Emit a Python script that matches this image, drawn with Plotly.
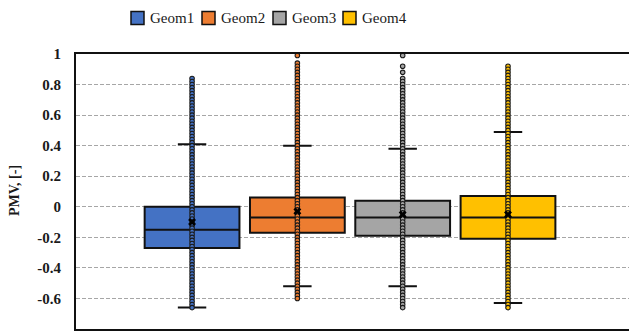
import plotly.graph_objects as go

# ---- data -------------------------------------------------------------
geoms = ["Geom1", "Geom2", "Geom3", "Geom4"]
colors = ["#4472C4", "#ED7D31", "#A5A5A5", "#FFC000"]

q1 = [-0.27, -0.17, -0.19, -0.21]
median = [-0.15, -0.07, -0.07, -0.07]
q3 = [0.00, 0.06, 0.04, 0.07]
lower_whisker = [-0.66, -0.52, -0.52, -0.63]
upper_whisker = [0.41, 0.40, 0.38, 0.49]
mean = [-0.10, -0.03, -0.05, -0.05]

# observed PMV values for each geometry
points_geom1 = [0.84, 0.82, 0.80, 0.78, 0.76, 0.74, 0.72, 0.70, 0.68, 0.66, 0.64, 0.62,
                0.60, 0.58, 0.56, 0.54, 0.52, 0.50, 0.48, 0.46, 0.44, 0.42, 0.40, 0.38,
                0.36, 0.34, 0.32, 0.30, 0.28, 0.26, 0.24, 0.22, 0.20, 0.18, 0.16, 0.14,
                0.12, 0.10, 0.08, 0.06, 0.04, 0.02, 0.00, -0.02, -0.04, -0.06, -0.08,
                -0.10, -0.12, -0.14, -0.16, -0.18, -0.20, -0.22, -0.24, -0.26, -0.28,
                -0.30, -0.32, -0.34, -0.36, -0.38, -0.40, -0.42, -0.44, -0.46, -0.48,
                -0.50, -0.52, -0.54, -0.56, -0.58, -0.60, -0.62, -0.64, -0.66]
points_geom2 = [0.99, 0.94, 0.92, 0.90, 0.88, 0.86, 0.84, 0.82, 0.80, 0.78, 0.76, 0.74,
                0.72, 0.70, 0.68, 0.66, 0.64, 0.62, 0.60, 0.58, 0.56, 0.54, 0.52, 0.50,
                0.48, 0.46, 0.44, 0.42, 0.40, 0.38, 0.36, 0.34, 0.32, 0.30, 0.28, 0.26,
                0.24, 0.22, 0.20, 0.18, 0.16, 0.14, 0.12, 0.10, 0.08, 0.06, 0.04, 0.02,
                0.00, -0.02, -0.04, -0.06, -0.08, -0.10, -0.12, -0.14, -0.16, -0.18,
                -0.20, -0.22, -0.24, -0.26, -0.28, -0.30, -0.32, -0.34, -0.36, -0.38,
                -0.40, -0.42, -0.44, -0.46, -0.48, -0.50, -0.52, -0.54, -0.56, -0.58,
                -0.60]
points_geom3 = [0.99, 0.92, 0.88, 0.84, 0.82, 0.80, 0.78, 0.76, 0.74, 0.72, 0.70, 0.68,
                0.66, 0.64, 0.62, 0.60, 0.58, 0.56, 0.54, 0.52, 0.50, 0.48, 0.46, 0.44,
                0.42, 0.40, 0.38, 0.36, 0.34, 0.32, 0.30, 0.28, 0.26, 0.24, 0.22, 0.20,
                0.18, 0.16, 0.14, 0.12, 0.10, 0.08, 0.06, 0.04, 0.02, 0.00, -0.02, -0.04,
                -0.06, -0.08, -0.10, -0.12, -0.14, -0.16, -0.18, -0.20, -0.22, -0.24,
                -0.26, -0.28, -0.30, -0.32, -0.34, -0.36, -0.38, -0.40, -0.42, -0.44,
                -0.46, -0.48, -0.50, -0.52, -0.54, -0.56, -0.58, -0.60, -0.62, -0.64,
                -0.66]
points_geom4 = [0.92, 0.90, 0.88, 0.86, 0.84, 0.82, 0.80, 0.78, 0.76, 0.74, 0.72, 0.70,
                0.68, 0.66, 0.64, 0.62, 0.60, 0.58, 0.56, 0.54, 0.52, 0.50, 0.48, 0.46,
                0.44, 0.42, 0.40, 0.38, 0.36, 0.34, 0.32, 0.30, 0.28, 0.26, 0.24, 0.22,
                0.20, 0.18, 0.16, 0.14, 0.12, 0.10, 0.08, 0.06, 0.04, 0.02, 0.00, -0.02,
                -0.04, -0.06, -0.08, -0.10, -0.12, -0.14, -0.16, -0.18, -0.20, -0.22,
                -0.24, -0.26, -0.28, -0.30, -0.32, -0.34, -0.36, -0.38, -0.40, -0.42,
                -0.44, -0.46, -0.48, -0.50, -0.52, -0.54, -0.56, -0.58, -0.60, -0.62,
                -0.64, -0.66]
points = [points_geom1, points_geom2, points_geom3, points_geom4]

y_tick_vals = [-0.8, -0.6, -0.4, -0.2, 0, 0.2, 0.4, 0.6, 0.8, 1]
y_tick_text = ["-0.8", "-0.6", "-0.4", "-0.2", "0", "0.2", "0.4", "0.6", "0.8", "1"]

# ---- layout geometry (pixels) ----------------------------------------
W, H = 629, 333
ML, MR, MT, MB = 76, 0, 54, 4
PW, PH = W - ML - MR, H - MT - MB

SERIF = "Liberation Serif"


def px_x(p):
    return (p - ML) / PW


def px_y(p):
    return (H - MB - p) / PH


fig = go.Figure()

for i, name in enumerate(geoms):
    fig.add_trace(go.Box(
        x=[i], q1=[q1[i]], median=[median[i]], q3=[q3[i]],
        lowerfence=[lower_whisker[i]], upperfence=[upper_whisker[i]],
        name=name, width=0.9, whiskerwidth=0.3,
        fillcolor=colors[i], line=dict(color="#111111", width=2),
        boxpoints=False, showlegend=False, hoverinfo="skip",
    ))

for i, name in enumerate(geoms):
    fig.add_trace(go.Scatter(
        x=[i] * len(points[i]), y=points[i], mode="markers",
        marker=dict(size=4.5, color=colors[i], line=dict(color="#1a1a1a", width=1.1)),
        cliponaxis=False, showlegend=False, hoverinfo="skip",
    ))

fig.add_trace(go.Scatter(
    x=list(range(len(geoms))), y=mean, mode="markers",
    marker=dict(symbol="x", size=7, color="#000000", line=dict(width=0)),
    cliponaxis=False, showlegend=False, hoverinfo="skip",
))

# legend drawn as swatches + labels across the top
legend_left = [131, 202, 273, 343]
shapes = []
annotations = []
for i, name in enumerate(geoms):
    x0 = legend_left[i]
    shapes.append(dict(
        type="rect", xref="paper", yref="paper",
        x0=px_x(x0), x1=px_x(x0 + 13), y0=px_y(24.5), y1=px_y(11.5),
        fillcolor=colors[i], line=dict(color="#111111", width=1.5),
    ))
    annotations.append(dict(
        x=px_x(x0 + 17), y=px_y(18), xref="paper", yref="paper",
        text=name, showarrow=False, xanchor="left", yanchor="middle",
        font=dict(family=SERIF, size=15, color="#1a1a1a"),
    ))

annotations.append(dict(
    x=px_x(14), y=px_y(191), xref="paper", yref="paper",
    text="<b>PMV, [-]</b>", showarrow=False, textangle=-90,
    xanchor="center", yanchor="middle",
    font=dict(family=SERIF, size=14, color="#1a1a1a"),
))

fig.update_layout(
    width=W, height=H,
    margin=dict(l=ML, r=MR, t=MT, b=MB, pad=0),
    paper_bgcolor="white", plot_bgcolor="white",
    boxmode="overlay",
    shapes=shapes, annotations=annotations,
    showlegend=False,
)

fig.update_xaxes(
    range=[-1.102, 4.149], showticklabels=False, ticks="",
    showgrid=False, zeroline=False,
    showline=True, linecolor="#111111", linewidth=2, mirror=True,
)
fig.update_yaxes(
    range=[-0.8, 1], tickvals=y_tick_vals, ticktext=y_tick_text,
    tickfont=dict(family=SERIF, size=15, color="#1a1a1a", weight="bold"),
    ticks="", ticklabelstandoff=10,
    showgrid=True, gridcolor="#a6a6a6", gridwidth=1, griddash="4px,2px",
    zeroline=False,
    showline=True, linecolor="#111111", linewidth=2, mirror=False,
)

fig.write_html("out.html")
